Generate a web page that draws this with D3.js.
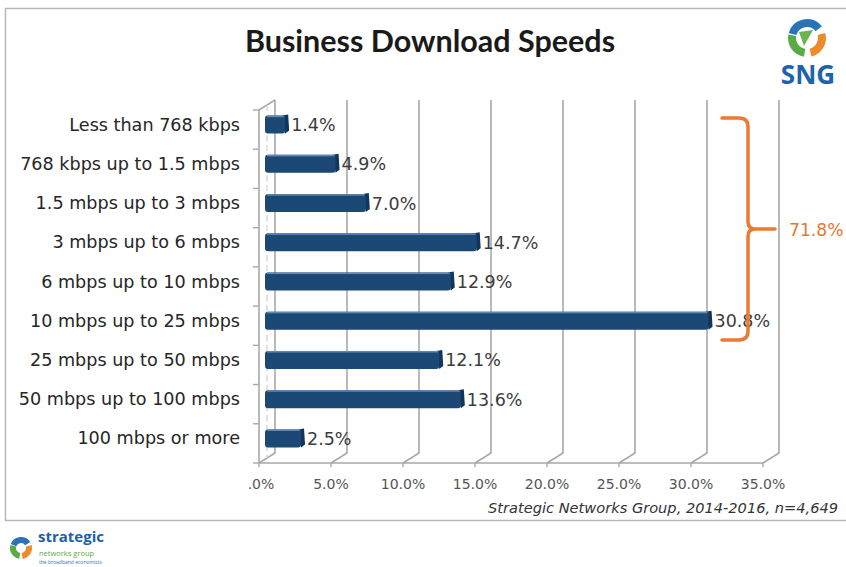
<!DOCTYPE html>
<html><head><meta charset="utf-8">
<script src="https://cdn.jsdelivr.net/npm/d3@7/dist/d3.min.js"></script>
<style>html,body{margin:0;padding:0;background:#fff;overflow:hidden}</style>
</head><body>
<svg id="c" width="846" height="567"></svg>
<script>
const categories = ["Less than 768 kbps","768 kbps up to 1.5 mbps","1.5 mbps up to 3 mbps","3 mbps up to 6 mbps","6 mbps up to 10 mbps","10 mbps up to 25 mbps","25 mbps up to 50 mbps","50 mbps up to 100 mbps","100 mbps or more"];
const values = [1.4, 4.9, 7.0, 14.7, 12.9, 30.8, 12.1, 13.6, 2.5];
const valueLabels = ["1.4%","4.9%","7.0%","14.7%","12.9%","30.8%","12.1%","13.6%","2.5%"];
const xTicks = [0,5,10,15,20,25,30,35];
const xTickLabels = [".0%","5.0%","10.0%","15.0%","20.0%","25.0%","30.0%","35.0%"];
const bracketLabel = "71.8%";
const title = "Business Download Speeds";
const source = "Strategic Networks Group, 2014-2016, n=4,649";

const svg = d3.select("#c");
svg.append("rect").attr("x",5.5).attr("y",8.5).attr("width",852).attr("height",512)
  .attr("fill","#fff").attr("stroke","#b8b8b8").attr("stroke-width",1.5);

svg.append("text").attr("x",430).attr("y",52).attr("text-anchor","middle")
  .attr("font-family","Lato, 'Open Sans', sans-serif").attr("font-weight","bold")
  .attr("font-size",30.5).attr("fill","#1a1a1a").text(title);

const x = d3.scaleLinear().domain([0,35]).range([259,763]);
const y = d3.scaleBand().domain(categories).range([110,463]);
const DX = 16, DY = -10;
const grid = "#a9a9a9";

const g = svg.append("g");
xTicks.forEach(t=>{
  const xf = x(t);
  g.append("path").attr("d",`M${xf},${463}L${xf+DX},${463+DY}L${xf+DX},${110+DY}`)
    .attr("fill","none").attr("stroke",grid).attr("stroke-width",1.6);
});
g.append("line").attr("x1",x(0)).attr("x2",x(35)).attr("y1",463).attr("y2",463)
  .attr("stroke",grid).attr("stroke-width",1.6);
g.append("path").attr("d",`M${x(0)},463L${x(0)},110L${x(0)+DX},${110+DY}`)
  .attr("fill","none").attr("stroke",grid).attr("stroke-width",1.6);
g.append("line").attr("x1",x(0)+DX/2).attr("x2",x(0)+DX/2).attr("y1",110+DY/2).attr("y2",463+DY/2)
  .attr("stroke","#d0d0d0").attr("stroke-width",1.2).attr("stroke-dasharray","6,4");
categories.forEach((c,i)=>{
  const yy = y(c);
  g.append("line").attr("x1",x(0)-6).attr("x2",x(0)).attr("y1",yy).attr("y2",yy)
    .attr("stroke",grid).attr("stroke-width",1.4);
});
g.append("line").attr("x1",x(0)-6).attr("x2",x(0)).attr("y1",463).attr("y2",463)
  .attr("stroke",grid).attr("stroke-width",1.4);
xTicks.forEach(t=>{
  g.append("line").attr("x1",x(t)).attr("x2",x(t)).attr("y1",463).attr("y2",467)
    .attr("stroke",grid).attr("stroke-width",1.4);
});

categories.forEach((c,i)=>{
  svg.append("text").attr("x",240).attr("y",y(c)+y.bandwidth()/2-5+6)
    .attr("text-anchor","end").attr("font-family","'DejaVu Sans', Verdana, sans-serif")
    .attr("font-size",17.6).attr("fill","#262626").text(c);
});

const BH = 18, OX = 6;
categories.forEach((c,i)=>{
  const yc = y(c)+y.bandwidth()/2-5;
  const x0 = x(0)+OX, x1 = x(values[i])+OX;
  const bg = svg.append("g");
  bg.append("path").attr("d",`M${x1-3},${yc-BH/2}L${x1+3},${yc-BH/2-1}L${x1+4},${yc+BH/2-3}L${x1},${yc+BH/2}Z`)
    .attr("fill","#123559");
  bg.append("rect").attr("x",x0).attr("y",yc-BH/2).attr("width",x1-x0).attr("height",BH)
    .attr("rx",3).attr("fill","#1c4876");
  bg.append("rect").attr("x",x0+2).attr("y",yc-BH/2).attr("width",Math.max(0,x1-x0-3)).attr("height",1.6)
    .attr("fill","#5f88b3");
  svg.append("text").attr("x",x1+6).attr("y",yc+6.5)
    .attr("font-family","'DejaVu Sans', Verdana, sans-serif").attr("font-size",17.5)
    .attr("fill","#3c3c3c").text(valueLabels[i]);
});

xTicks.forEach((t,i)=>{
  svg.append("text").attr("x",x(t)+(i===0?2:0)).attr("y",489).attr("text-anchor","middle")
    .attr("font-family","'DejaVu Sans', sans-serif").attr("font-size",14)
    .attr("fill","#555").text(xTickLabels[i]);
});

const yTop = 118, yBot = 340, yMid = 229;
const bx = 748, bl = 722;
svg.append("path").attr("d",
  `M${bl},${yTop}L${bx-9},${yTop}Q${bx},${yTop} ${bx},${yTop+9}L${bx},${yMid-7}Q${bx},${yMid} ${bx+8},${yMid}L775,${yMid}` +
  `M${bx+8},${yMid}Q${bx},${yMid} ${bx},${yMid+7}L${bx},${yBot-9}Q${bx},${yBot} ${bx-9},${yBot}L${bl},${yBot}`)
  .attr("fill","none").attr("stroke","#ea7a35").attr("stroke-width",3.5).attr("stroke-linecap","round");
svg.append("text").attr("x",789).attr("y",yMid+6.5).attr("font-family","'DejaVu Sans', Verdana, sans-serif")
  .attr("font-size",17.2).attr("fill","#e8772e").text(bracketLabel);

svg.append("text").attr("x",838).attr("y",513).attr("text-anchor","end")
  .attr("font-family","'DejaVu Sans', sans-serif").attr("font-style","italic")
  .attr("font-size",14.6).attr("fill","#333").text(source);

const lg = svg.append("g").attr("transform","translate(807,38)");
const arc = d3.arc();
lg.append("path").attr("d",arc({innerRadius:11,outerRadius:19,startAngle:-1.3,endAngle:0.9})).attr("fill","#2a73b8");
lg.append("path").attr("d",arc({innerRadius:11,outerRadius:19,startAngle:3.3,endAngle:4.9})).attr("fill","#5aab46");
lg.append("path").attr("d",arc({innerRadius:11,outerRadius:19,startAngle:1.3,endAngle:2.9})).attr("fill","#ef8a2b");
lg.append("path").attr("d","M-8,-6 L6,-8 L-3,8Z").attr("fill","#6bb44f");
svg.append("text").attr("x",808).attr("y",84).attr("text-anchor","middle")
  .attr("font-family","'Open Sans', sans-serif").attr("font-weight","bold").attr("font-size",26)
  .attr("fill","#1e64ad").text("SNG");

const bl2 = svg.append("g").attr("transform","translate(21,548)");
bl2.append("path").attr("d",arc({innerRadius:5,outerRadius:11,startAngle:-1.2,endAngle:1.0})).attr("fill","#2a73b8");
bl2.append("path").attr("d",arc({innerRadius:5,outerRadius:11,startAngle:3.3,endAngle:5.0})).attr("fill","#5aab46");
bl2.append("path").attr("d",arc({innerRadius:5,outerRadius:11,startAngle:1.3,endAngle:3.0})).attr("fill","#ef8a2b");
svg.append("text").attr("x",38).attr("y",542).attr("font-family","'Open Sans', sans-serif")
  .attr("font-weight","bold").attr("font-size",15).attr("fill","#1e5fa5").text("strategic");
svg.append("text").attr("x",39).attr("y",556).attr("font-family","'Open Sans', sans-serif")
  .attr("font-size",7.5).attr("fill","#5aab46").text("networks group");
svg.append("text").attr("x",39).attr("y",563.5).attr("font-family","'Open Sans', sans-serif")
  .attr("font-size",5).attr("fill","#2a73b8").text("the broadband economists");
</script>
</body></html>
